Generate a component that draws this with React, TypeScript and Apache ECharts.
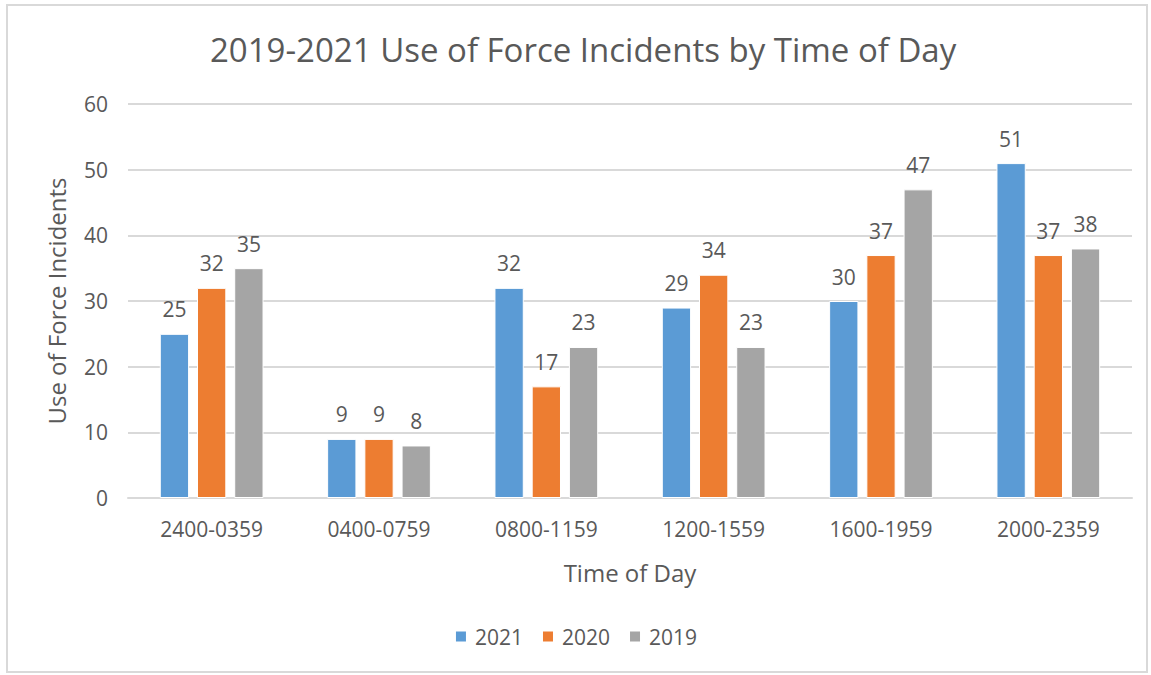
import React, { useEffect, useRef } from "react";
import * as echarts from "echarts";

const categories = ["2400-0359", "0400-0759", "0800-1159", "1200-1559", "1600-1959", "2000-2359"];
const series2021 = [25, 9, 32, 29, 30, 51];
const series2020 = [32, 9, 17, 34, 37, 37];
const series2019 = [35, 8, 23, 23, 47, 38];
const yTicks = { min: 0, max: 60, interval: 10 };

const FONT = "'Open Sans', 'Noto Sans', sans-serif";
const TXT = "#595959";

export default function App() {
  const ref = useRef<HTMLDivElement>(null);
  useEffect(() => {
    if (!ref.current) return;
    const chart = echarts.init(ref.current, undefined, { renderer: "svg" });
    const mk = (name: string, data: number[], color: string) => ({
      name,
      type: "bar",
      data,
      barGap: "27%",
      barCategoryGap: "38%",
      itemStyle: { color, borderColor: "#ffffff", borderWidth: 1 },
      label: { show: true, position: "top", distance: 14, color: TXT, fontSize: 21, fontFamily: FONT },
    });
    chart.setOption({
      animation: false,
      textStyle: { fontFamily: FONT },
      title: {
        text: "2019-2021 Use of Force Incidents by Time of Day",
        left: 205,
        top: 28,
        textStyle: { color: TXT, fontSize: 33, fontWeight: "normal", fontFamily: FONT },
      },
      graphic: [
        {
          type: "rect",
          shape: { x: 7, y: 5, width: 1140, height: 667 },
          style: { fill: "none", stroke: "#d9d9d9", lineWidth: 2 },
          silent: true,
          z: -1,
        },
      ],
      legend: {
        bottom: 23,
        left: "center",
        itemWidth: 12,
        itemHeight: 12,
        itemGap: 18,
        icon: "rect",
        textStyle: { color: TXT, fontSize: 21, fontFamily: FONT, padding: [0, 0, 0, 3] },
        data: ["2021", "2020", "2019"],
      },
      grid: { left: 128, right: 19, top: 104, bottom: 177 },
      xAxis: {
        type: "category",
        data: categories,
        name: "Time of Day",
        nameLocation: "middle",
        nameGap: 62,
        nameTextStyle: { color: TXT, fontSize: 24, fontFamily: FONT },
        axisLine: { lineStyle: { color: "#d9d9d9", width: 2 } },
        axisTick: { show: false },
        axisLabel: { color: TXT, fontSize: 21, margin: 20, fontFamily: FONT },
      },
      yAxis: {
        type: "value",
        min: yTicks.min,
        max: yTicks.max,
        interval: yTicks.interval,
        name: "Use of Force Incidents",
        nameLocation: "middle",
        nameGap: 60,
        nameRotate: 90,
        nameTextStyle: { color: TXT, fontSize: 24, fontFamily: FONT },
        axisLine: { show: false },
        axisTick: { show: false },
        axisLabel: { color: TXT, fontSize: 21, margin: 20, fontFamily: FONT },
        splitLine: { lineStyle: { color: "#d9d9d9", width: 2 } },
      },
      series: [
        mk("2021", series2021, "#5B9BD5"),
        mk("2020", series2020, "#ED7D31"),
        mk("2019", series2019, "#A5A5A5"),
      ],
    });
    return () => chart.dispose();
  }, []);
  return (
    <div
      ref={ref}
      style={{ position: "absolute", left: 0, top: 0, width: 1151, height: 675, background: "#fff" }}
    />
  );
}
